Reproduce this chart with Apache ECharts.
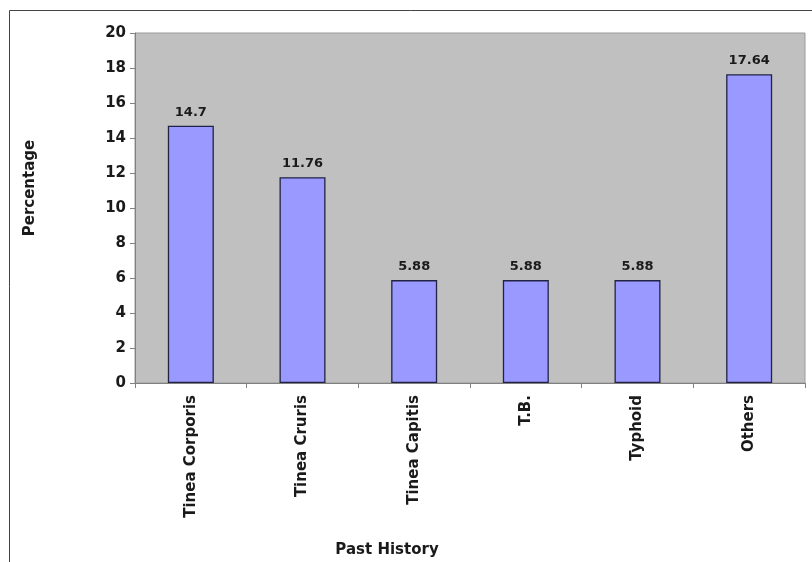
<!DOCTYPE html>
<html>
<head>
<meta charset="utf-8">
<script src="https://cdn.jsdelivr.net/npm/echarts@6/dist/echarts.min.js"></script>
<style>
  html, body { margin: 0; padding: 0; background: #fff; }
  #chart { width: 812px; height: 562px; }
</style>
</head>
<body>
<div id="chart"></div>
<script>
// Past history of patients, percentage per condition
const categories = ['Tinea Corporis', 'Tinea Cruris', 'Tinea Capitis', 'T.B.', 'Typhoid', 'Others'];
const percentages = [14.7, 11.76, 5.88, 5.88, 5.88, 17.64];
const yTicks = [0, 2, 4, 6, 8, 10, 12, 14, 16, 18, 20];

const FONT = 'DejaVu Sans';
const chart = echarts.init(document.getElementById('chart'), null, { renderer: 'canvas' });

chart.setOption({
  animation: false,
  backgroundColor: '#ffffff',
  grid: {
    left: 135, right: 7, top: 33, bottom: 179,
    show: true,
    backgroundColor: '#c0c0c0',
    borderColor: '#9a9a9a',
    borderWidth: 1
  },
  xAxis: {
    type: 'category',
    data: categories,
    boundaryGap: true,
    axisLine: { show: true, lineStyle: { color: '#808080', width: 1 } },
    axisTick: { show: true, alignWithLabel: false, length: 5, lineStyle: { color: '#808080' } },
    axisLabel: {
      rotate: 90,
      margin: 12,
      interval: 0,
      color: '#1a1a1a',
      fontFamily: FONT,
      fontWeight: 'bold',
      fontSize: 15
    },
    splitLine: { show: false }
  },
  yAxis: {
    type: 'value',
    min: yTicks[0],
    max: yTicks[yTicks.length - 1],
    interval: 2,
    axisLine: { show: true, lineStyle: { color: '#808080', width: 1 } },
    axisTick: { show: true, length: 5, lineStyle: { color: '#808080' } },
    axisLabel: {
      margin: 9,
      color: '#1a1a1a',
      fontFamily: FONT,
      fontWeight: 'bold',
      fontSize: 15
    },
    splitLine: { show: false }
  },
  series: [{
    type: 'bar',
    data: percentages,
    barWidth: 46,
    itemStyle: {
      color: '#9999ff',
      borderColor: '#222244',
      borderWidth: 1.3
    },
    label: {
      show: true,
      position: 'top',
      distance: 7,
      color: '#1a1a1a',
      fontFamily: FONT,
      fontWeight: 'bold',
      fontSize: 13,
      formatter: p => String(p.value)
    }
  }],
  graphic: [
    {
      type: 'polyline',
      shape: { points: [[9.5, 562], [9.5, 10.5], [812, 10.5]] },
      style: { stroke: '#444', lineWidth: 1, fill: null },
      silent: true
    },
    {
      type: 'text',
      x: 387, y: 550,
      style: {
        text: 'Past History',
        fill: '#1a1a1a',
        font: 'bold 15px "DejaVu Sans"',
        align: 'center',
        verticalAlign: 'middle'
      }
    },
    {
      type: 'text',
      x: 30, y: 188,
      rotation: Math.PI / 2,
      style: {
        text: 'Percentage',
        fill: '#1a1a1a',
        font: 'bold 15px "DejaVu Sans"',
        align: 'center',
        verticalAlign: 'middle'
      }
    }
  ]
});
</script>
</body>
</html>
